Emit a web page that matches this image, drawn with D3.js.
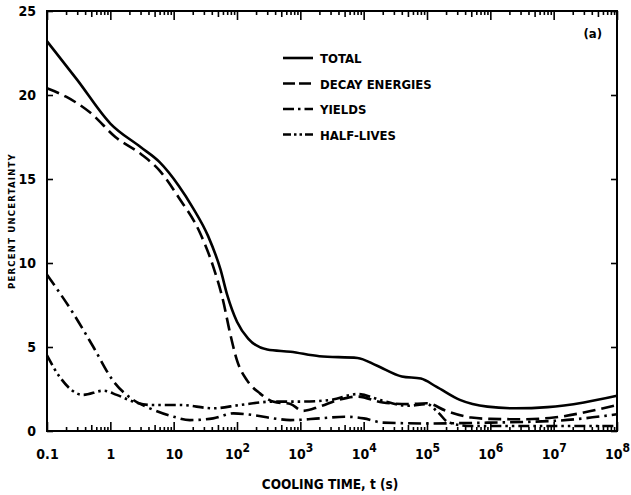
<!DOCTYPE html>
<meta charset="utf-8">
<script src="https://d3js.org/d3.v7.min.js"></script>
<style>
body { margin: 0; background: #fff; }
text { font-family: "DejaVu Sans Condensed", "Liberation Sans Narrow", sans-serif; font-weight: bold; fill: #000; }
.axis path { display: none; }
.axis line { stroke: #000; stroke-width: 1.6px; }
.axis text { font-size: 14px; }
.curve { fill: none; stroke: #000; stroke-width: 2.6px; }
.legend text { font-size: 13px; }
</style>
<body>
<div id="chart"></div>
<script>

const width = 631, height = 495;
const margin = {top: 11, right: 14, bottom: 64, left: 47};

// ---- data ----
const decades = [0.1, 1, 10, 1e2, 1e3, 1e4, 1e5, 1e6, 1e7, 1e8];
const decadeLabels = ["0.1", "1", "10", "10|2", "10|3", "10|4", "10|5", "10|6", "10|7", "10|8"];
const yTicks = [0, 5, 10, 15, 20, 25];

const totalT = [0.1, 0.3, 1, 3, 6, 12, 20, 35, 55, 70, 100, 150, 300, 700, 2000, 8000, 1.6e4, 4e4, 8e4, 1.4e5, 3.3e5, 9e5, 2.5e6, 8e6, 3e7, 1e8];
const totalV = [23.2, 20.9, 18.3, 16.9, 16.0, 14.6, 13.3, 11.6, 9.6, 8.1, 6.5, 5.5, 4.85, 4.72, 4.45, 4.35, 3.9, 3.25, 3.12, 2.64, 1.85, 1.45, 1.35, 1.42, 1.7, 2.1];

const decayT = [0.1, 0.2, 0.5, 1.2, 3, 6, 12, 26, 42, 60, 78, 100, 145, 230, 380, 700, 1100, 2000, 4000, 8000, 2e4, 5e4, 1e5, 2e5, 5e5, 1e6, 3e6, 1e7, 3e7, 1e8];
const decayV = [20.4, 19.9, 18.9, 17.5, 16.5, 15.5, 13.9, 11.8, 9.8, 7.8, 5.8, 4.2, 3.0, 2.24, 1.74, 1.6, 1.2, 1.45, 1.85, 2.05, 1.7, 1.6, 1.65, 1.2, 0.8, 0.72, 0.7, 0.8, 1.1, 1.55];

const yieldT = [0.1, 0.26, 0.54, 1.1, 2.3, 4.2, 10, 18, 42, 88, 180, 380, 700, 2000, 5000, 1e4, 2e4, 1e5, 1e6, 1e7, 3e7, 1e8];
const yieldV = [9.3, 7.0, 5.0, 3.0, 1.85, 1.35, 0.85, 0.65, 0.75, 1.05, 0.95, 0.75, 0.65, 0.75, 0.85, 0.75, 0.5, 0.45, 0.5, 0.6, 0.75, 1.0];

const halfT = [0.1, 0.16, 0.37, 0.78, 1.26, 2.3, 4.2, 12.6, 42, 112, 380, 1000, 3000, 8000, 2e4, 5e4, 1e5, 1.5e5, 2.2e5, 5e5, 1e6, 1e7, 1e8];
const halfV = [4.5, 3.2, 2.15, 2.4, 2.15, 1.75, 1.55, 1.55, 1.35, 1.55, 1.75, 1.75, 1.85, 2.2, 1.8, 1.5, 1.6, 1.1, 0.5, 0.3, 0.3, 0.3, 0.3];

const seriesNames = ["TOTAL", "DECAY ENERGIES", "YIELDS", "HALF-LIVES"];
const dashes = ["none", "13 6", "13 5 2.5 5", "11 4 2.5 4 2.5 4"];

const series = [
  {name: seriesNames[0], t: totalT, v: totalV, dash: dashes[0]},
  {name: seriesNames[1], t: decayT, v: decayV, dash: dashes[1]},
  {name: seriesNames[2], t: yieldT, v: yieldV, dash: dashes[2]},
  {name: seriesNames[3], t: halfT, v: halfV, dash: dashes[3]}
];

// ---- scales ----
const x = d3.scaleLog().domain([0.1, 1e8]).range([margin.left, width - margin.right]);
const y = d3.scaleLinear().domain([0, 25]).range([height - margin.bottom, margin.top]);

const svg = d3.select("#chart").append("svg")
  .attr("width", width)
  .attr("height", height);

// minor ticks 2..9 in each decade
let minor = [];
decades.slice(0, -1).forEach(d => {
  for (let k = 2; k <= 9; k++) minor.push(d * k);
});
const mant = d => Math.round(d / Math.pow(10, Math.floor(Math.log10(d) + 1e-9)));

// bottom + top ticks (inward)
[[height - margin.bottom, d3.axisBottom], [margin.top, d3.axisTop]].forEach(([pos, ax]) => {
  svg.append("g").attr("class", "axis")
    .attr("transform", `translate(0,${pos})`)
    .call(ax(x).tickValues(minor.filter(d => mant(d) !== 5)).tickSize(-4).tickFormat(""));
  svg.append("g").attr("class", "axis")
    .attr("transform", `translate(0,${pos})`)
    .call(ax(x).tickValues(minor.filter(d => mant(d) === 5)).tickSize(-6).tickFormat(""));
  svg.append("g").attr("class", "axis")
    .attr("transform", `translate(0,${pos})`)
    .call(ax(x).tickValues(decades).tickSize(-9).tickFormat(""));
});

// x labels with superscripts
const xl = svg.append("g").attr("class", "axis")
  .attr("transform", `translate(0,${height - margin.bottom})`)
  .call(d3.axisBottom(x).tickValues(decades).tickSize(0).tickPadding(24).tickFormat(""));
xl.selectAll(".tick text").each(function(d, i) {
  const parts = decadeLabels[i].split("|");
  const t = d3.select(this).attr("dy", "0.3em");
  t.append("tspan").text(parts[0]);
  if (parts[1]) t.append("tspan").attr("dy", "-7").attr("font-size", "12px").text(parts[1]);
});

// y axes
svg.append("g").attr("class", "axis")
  .attr("transform", `translate(${margin.left},0)`)
  .call(d3.axisLeft(y).tickValues(yTicks).tickSize(-6).tickPadding(11).tickFormat(d3.format("d")));
svg.append("g").attr("class", "axis")
  .attr("transform", `translate(${width - margin.right},0)`)
  .call(d3.axisRight(y).tickValues(yTicks).tickSize(-6).tickFormat(""));

// frame
svg.append("rect")
  .attr("x", margin.left).attr("y", margin.top)
  .attr("width", width - margin.left - margin.right)
  .attr("height", height - margin.top - margin.bottom)
  .attr("fill", "none").attr("stroke", "#000").attr("stroke-width", 2);

// curves
const line = d3.line()
  .x(d => x(d[0]))
  .y(d => y(d[1]))
  .curve(d3.curveMonotoneX);

svg.selectAll(".curve")
  .data(series)
  .enter()
  .append("path")
  .attr("class", "curve")
  .attr("stroke-dasharray", d => d.dash)
  .attr("d", d => line(d.t.map((t, i) => [t, d.v[i]])));

// legend
const legendDash = ["none", "12 4", "11 4 2.5 4", "8 3 2.5 3 2.5 3"];
const legend = svg.append("g").attr("class", "legend");
series.forEach((s, i) => {
  const ly = 58 + i * 25.5;
  legend.append("line")
    .attr("x1", 283).attr("x2", 313).attr("y1", ly).attr("y2", ly)
    .attr("stroke", "#000").attr("stroke-width", 2.6)
    .attr("stroke-dasharray", legendDash[i]);
  legend.append("text")
    .attr("x", 320).attr("y", ly + 5)
    .text(s.name);
});

svg.append("text")
  .attr("x", 602).attr("y", 38)
  .attr("text-anchor", "end")
  .style("font-size", "13px")
  .text("(a)");

// axis titles
svg.append("text")
  .attr("x", 330).attr("y", 489)
  .attr("text-anchor", "middle")
  .style("font-size", "13.5px")
  .text("COOLING TIME, t (s)");

svg.append("text")
  .attr("transform", "translate(15,221) rotate(-90)")
  .attr("text-anchor", "middle")
  .style("font-size", "9.5px")
  .style("letter-spacing", "1.2px")
  .text("PERCENT UNCERTAINTY");

</script>
</body>
